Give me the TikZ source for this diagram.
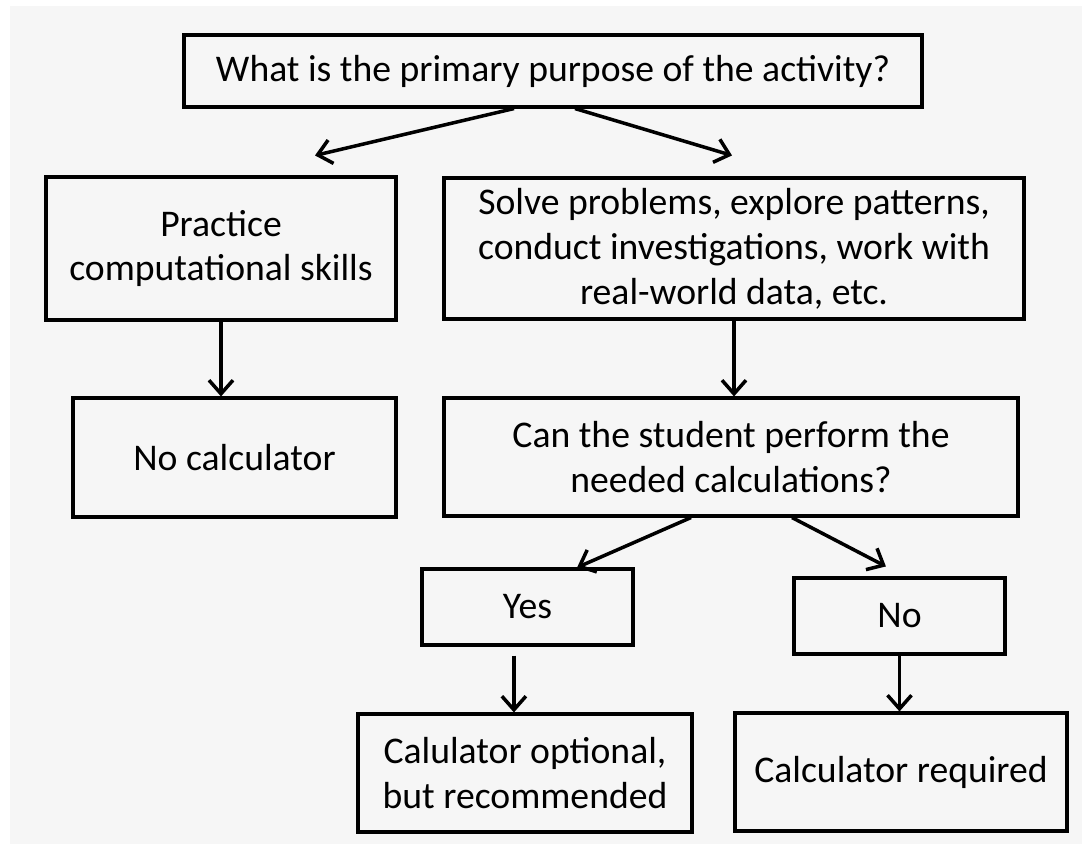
\documentclass[tikz,border=0pt]{standalone}
\usepackage{fontspec}
\setmainfont{Carlito}
\usetikzlibrary{arrows.meta,positioning}
\definecolor{paper}{HTML}{F6F6F6}

\begin{document}
\begin{tikzpicture}[
    >={Straight Barb[length=3.4mm,width=6mm]},
    box/.style={draw, line width=2.2pt, align=center, inner sep=0pt,
      font=\fontsize{26.8}{32}\selectfont},
    flow/.style={->, line width=2.5pt},
  ]
  \useasboundingbox (0,0) rectangle (27.05,-21.1);
  \fill[paper] (0.25,-0.15) rectangle (27.05,-21.1);

  % question and the two purposes
  \node[box, minimum width=18.45cm, minimum height=1.8cm] (q) at (13.825,-1.775)
    {What is the primary purpose of the activity?};
  \node[box, minimum width=8.75cm, minimum height=3.575cm] (practice) at (5.525,-6.2125)
    {Practice\\computational skills};
  \node[box, minimum width=14.5cm, minimum height=3.525cm] (solve) at (18.35,-6.2125)
    {Solve problems, explore patterns,\\conduct investigations, work with\\real-world data, etc.};

  % second row
  \node[box, minimum width=8.075cm, minimum height=2.975cm] (nocalc) at (5.8625,-11.4375)
    {No calculator};
  \node[box, minimum width=14.35cm, minimum height=2.95cm] (can) at (18.275,-11.425)
    {Can the student perform the\\needed calculations?};

  % answers
  \node[box, minimum width=5.275cm, minimum height=1.9cm] (yes) at (13.1875,-15.175) {Yes};
  \node[box, minimum width=5.275cm, minimum height=1.9cm] (no) at (22.4875,-15.4) {No};
  \node[box, minimum width=8.35cm, minimum height=2.95cm] (optional) at (13.125,-19.325)
    {Calulator optional,\\but recommended};
  \node[box, minimum width=8.3cm, minimum height=2.95cm] (required) at (22.525,-19.3)
    {Calculator required};

  \draw[flow] ([xshift=-0.975cm]q.south) -- ([xshift=2.35cm,yshift=0.5cm]practice.north);
  \draw[flow] ([xshift=0.55cm]q.south) -- ([xshift=-0.05cm,yshift=0.525cm]solve.north);
  \draw[flow] (practice.south) -- (practice.south |- nocalc.north);
  \draw[flow] (solve.south) -- (solve.south |- can.north);
  \draw[flow] ([xshift=-1cm]can.south) -- ([xshift=1.24cm]yes.north);
  \draw[flow] ([xshift=1.525cm]can.south) -- ([xshift=-0.34cm,yshift=0.25cm]no.north);
  \draw[flow] ([xshift=-0.34cm,yshift=-0.225cm]yes.south) -- ([xshift=-0.34cm]yes.south |- optional.north);
  \draw[flow] (no.south) -- (no.south |- required.north);
\end{tikzpicture}
\end{document}
